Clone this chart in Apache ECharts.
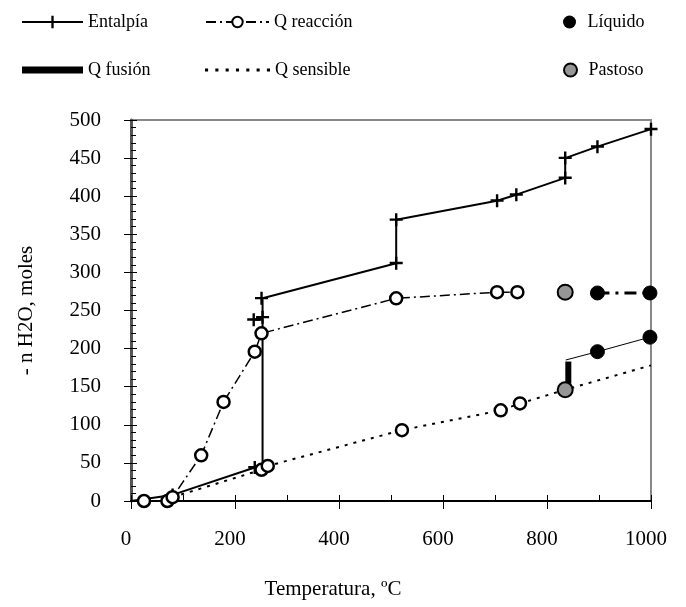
<!DOCTYPE html>
<html>
<head>
<meta charset="utf-8">
<title>Entalpía vs Temperatura</title>
<script src="https://cdn.jsdelivr.net/npm/echarts@6/dist/echarts.min.js"></script>
<style>
  html, body { margin: 0; padding: 0; background: #fff; }
  #chart { width: 686px; height: 607px; }
</style>
</head>
<body>
<div id="chart"></div>
<script>
// datos: [temperatura ºC, - n H2O moles]
const entalpiaPath = [[0, 0], [80, 8], [238, 44], [253, 44], [253, 238], [236, 238], [253, 241], [253, 266], [251, 266],
  [510, 312], [510, 369], [704, 394], [741, 402], [835, 424], [835, 450], [897, 465], [1000, 488]]
const entalpiaMarks = [[80, 8], [238, 44], [236, 238], [253, 241], [251, 266], [510, 312], [510, 369],
  [704, 394], [741, 402], [835, 424], [835, 450], [897, 465], [1000, 488]]
const qReaccion = [[25, 0], [70, 0], [80, 5], [135, 60], [178, 130], [238, 196], [251, 220], [510, 266], [704, 274], [743, 274]]
const qSensiblePath = [[80, 5], [251, 41], [263, 46], [521, 93], [711, 119], [748, 128], [835, 146], [1000, 178]]
const qSensibleMarks = [[251, 41], [263, 46], [521, 93], [711, 119], [748, 128]]
const qFusion = [[841, 154], [841, 183]]
const liquidoTop = [[897, 273], [998, 273]]
const liquidoLow = [[836, 185], [897, 196], [998, 215]]
const liquidoMarks = [[897, 273], [998, 273], [897, 196], [998, 215]]
const pastoso = [[835, 274], [835, 146]]

// colores / fuente
var black = '#000'
var grey = '#969696'
var font = '"Liberation Serif", "Times New Roman", serif'

// iconos de leyenda
var iconEntalpia = 'path://M0,5.4h63v2.2h-63zM30.3,0h2.4v13h-2.4z'
var iconFusion = 'path://M0,0h63v7h-63z'
var iconSensible = 'path://'
for (var i = 0; i < 7; i++) {
  iconSensible += 'M' + (i * 10) + ',0h3v3h-3z'
}

var myChart = echarts.init(document.getElementById('chart'))

// leyenda: una por elemento para colocarlas como en el original
function legendAt(name, left, top, w, icon) {
  var item = { name: name }
  if (icon) item.icon = icon
  return {
    data: [item],
    left: left,
    top: top,
    padding: 0,
    itemWidth: w,
    itemHeight: 13,
    itemGap: 0,
    selectedMode: false,
    textStyle: { fontFamily: font, fontSize: 18, color: black }
  }
}

const option = {
  animation: false,
  textStyle: { fontFamily: font },
  legend: [
    legendAt('Entalpía', 22, 13, 61, iconEntalpia),
    legendAt('Q reacción', 205, 13, 63),
    legendAt('Líquido', 563, 13, 26, 'circle'),
    legendAt('Q fusión', 22, 61, 61, iconFusion),
    legendAt('Q sensible', 205, 61, 65, iconSensible),
    legendAt('Pastoso', 563, 61, 26, 'circle')
  ],
  grid: {
    left: 131,
    right: 35,
    top: 120,
    bottom: 106,
    show: true,
    borderColor: '#888',
    borderWidth: 2
  },
  xAxis: [{
    type: 'value',
    min: 0,
    max: 1000,
    interval: 200,
    name: 'Temperatura, ºC',
    nameLocation: 'middle',
    nameGap: 78,
    nameTextStyle: { fontFamily: font, fontSize: 21, color: black, padding: [0, 116, 0, 0] },
    axisLine: { show: true, lineStyle: { color: black, width: 2 } },
    axisTick: { show: true, inside: false, length: 8, lineStyle: { color: black } },
    axisLabel: {
      fontFamily: font, fontSize: 21, color: black, margin: 28, padding: [0, 10, 0, 0],
      formatter: function (v) { return String(v) }
    },
    splitLine: { show: false }
  }, {
    // marcas interiores (principales y secundarias)
    type: 'value',
    position: 'bottom',
    min: 0,
    max: 1000,
    interval: 200,
    axisLine: { show: false },
    axisTick: { show: true, inside: true, length: 6, lineStyle: { color: black } },
    minorTick: { show: true, splitNumber: 2, length: 6, lineStyle: { color: black } },
    axisLabel: { show: false },
    splitLine: { show: false }
  }],
  yAxis: [{
    type: 'value',
    min: 0,
    max: 500,
    interval: 50,
    name: '- n H2O, moles',
    nameLocation: 'middle',
    nameGap: 94,
    nameTextStyle: { fontFamily: font, fontSize: 21, color: black },
    axisLine: { show: true, lineStyle: { color: '#555', width: 3 } },
    axisTick: { show: true, inside: false, length: 7, lineStyle: { color: black } },
    axisLabel: { fontFamily: font, fontSize: 21, color: black, margin: 30 },
    splitLine: { show: false }
  }, {
    type: 'value',
    position: 'left',
    min: 0,
    max: 500,
    interval: 50,
    axisLine: { show: false },
    axisTick: { show: true, inside: true, length: 6, lineStyle: { color: black } },
    minorTick: { show: true, splitNumber: 5, length: 5, lineStyle: { color: black } },
    axisLabel: { show: false },
    splitLine: { show: false }
  }],
  series: [{
    name: 'Entalpía',
    type: 'line',
    data: entalpiaPath,
    symbol: 'none',
    color: black,
    lineStyle: { color: black, width: 2 },
    z: 3
  }, {
    name: 'Entalpía',
    type: 'scatter',
    data: entalpiaMarks,
    symbol: 'path://M0,5.1h13v2.4h-13zM5.3,0h2.4v13h-2.4z',
    symbolSize: 13,
    itemStyle: { color: black, opacity: 1 },
    z: 4
  }, {
    name: 'Q reacción',
    type: 'line',
    data: qReaccion,
    symbol: 'circle',
    symbolSize: 12,
    showAllSymbol: true,
    color: black,
    itemStyle: { color: '#fff', borderColor: black, borderWidth: 2.5 },
    lineStyle: { color: black, width: 1.5, type: [10, 4, 2, 4] },
    z: 5
  }, {
    name: 'Líquido',
    type: 'line',
    data: liquidoTop,
    symbol: 'none',
    color: black,
    lineStyle: { color: black, width: 3, type: [12, 6, 3, 6] },
    z: 3
  }, {
    name: 'Líquido',
    type: 'line',
    data: liquidoLow,
    symbol: 'none',
    color: black,
    lineStyle: { color: black, width: 1 },
    z: 3
  }, {
    name: 'Q fusión',
    type: 'line',
    data: qFusion,
    symbol: 'none',
    color: black,
    lineStyle: { color: black, width: 6 },
    z: 3
  }, {
    name: 'Q sensible',
    type: 'line',
    data: qSensiblePath,
    symbol: 'none',
    color: black,
    lineStyle: { color: black, width: 2, type: [3, 6] },
    z: 3
  }, {
    name: 'Q sensible',
    type: 'scatter',
    data: qSensibleMarks,
    symbol: 'circle',
    symbolSize: 12,
    itemStyle: { color: '#fff', borderColor: black, borderWidth: 2.5, opacity: 1 },
    z: 5
  }, {
    name: 'Líquido',
    type: 'scatter',
    data: liquidoMarks,
    symbol: 'circle',
    symbolSize: 14,
    itemStyle: { color: black, borderColor: black, borderWidth: 1, opacity: 1 },
    z: 6
  }, {
    name: 'Pastoso',
    type: 'scatter',
    data: pastoso,
    symbol: 'circle',
    symbolSize: 15,
    color: grey,
    itemStyle: { color: grey, borderColor: black, borderWidth: 2, opacity: 1 },
    z: 6
  }]
}

myChart.setOption(option, true)
</script>
</body>
</html>
